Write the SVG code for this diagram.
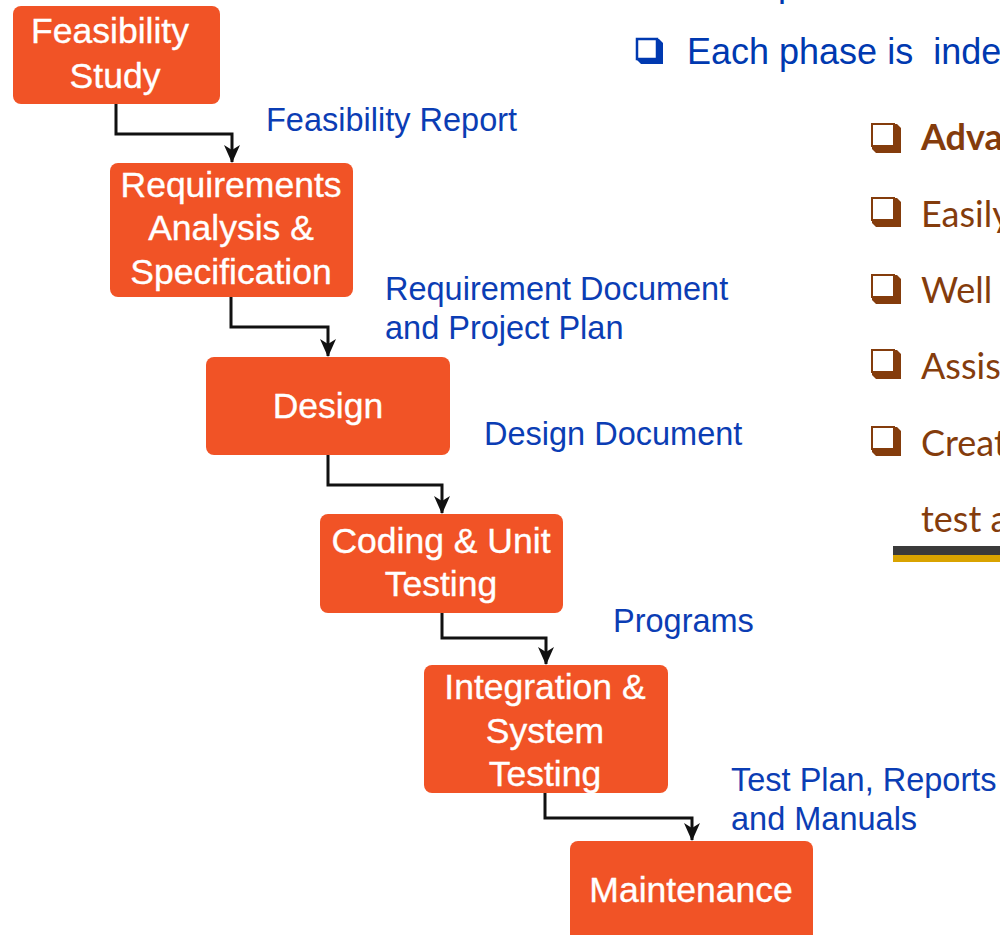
<svg xmlns="http://www.w3.org/2000/svg" width="1000" height="935" viewBox="0 0 1000 935">
  <style>
    .box { fill: #f15326; }
    .lbl { font-family: "Liberation Sans", Arial, sans-serif; font-size: 35.5px; fill: #ffffff; stroke: #ffffff; stroke-width: 0.35; text-anchor: middle; }
    .out { font-family: "Liberation Sans", Arial, sans-serif; font-size: 32.5px; fill: #0b3db4; }
    .edge { fill: none; stroke: #111111; stroke-width: 3; }
    .head { font-family: "Liberation Sans", Arial, sans-serif; font-size: 36px; fill: #0039b0; white-space: pre; }
    .pt { font-family: Lato, "Open Sans", "Liberation Sans", sans-serif; font-size: 36px; fill: #843c0c; }
  </style>
  <defs>
    <marker id="arr" viewBox="0 0 18 18" refX="17" refY="9" markerWidth="18" markerHeight="18" markerUnits="userSpaceOnUse" orient="auto">
      <path d="M0,1 L18,9 L0,17 L5,9 z" fill="#111111"/>
    </marker>
    <!-- shadowed square bullet, 30x30 -->
    <g id="sq">
      <rect x="1" y="1" width="22" height="22" fill="none" stroke="currentColor" stroke-width="2"/>
      <polygon points="23,1 26,1 30,5 30,30 5,30 1,26 1,23 23,23" fill="currentColor"/>
    </g>
    <g id="sq-s">
      <rect x="1" y="1" width="20" height="20" fill="none" stroke="currentColor" stroke-width="2.5"/>
      <polygon points="21,1 23,1 27,5 27,26 5,26 1,22 1,21 21,21" fill="currentColor"/>
    </g>
  </defs>

  <!-- connectors -->
  <g id="connectors">
    <path class="edge" d="M116,104 V134 H232 V162" marker-end="url(#arr)"/>
    <path class="edge" d="M231,297 V327 H328 V356" marker-end="url(#arr)"/>
    <path class="edge" d="M328,455 V485 H442 V513" marker-end="url(#arr)"/>
    <path class="edge" d="M442,613 V638 H546 V664" marker-end="url(#arr)"/>
    <path class="edge" d="M545,793 V818 H692 V840" marker-end="url(#arr)"/>
  </g>

  <!-- phase nodes -->
  <g id="feasibility">
    <rect class="box" x="13" y="6" width="207" height="98" rx="8"/>
    <text class="lbl" x="110" y="43">Feasibility</text>
    <text class="lbl" x="115" y="88">Study</text>
  </g>
  <g id="requirements">
    <rect class="box" x="110" y="163" width="243" height="134" rx="8"/>
    <text class="lbl" x="231" y="197">Requirements</text>
    <text class="lbl" x="231" y="240">Analysis &amp;</text>
    <text class="lbl" x="231" y="284">Specification</text>
  </g>
  <g id="design">
    <rect class="box" x="206" y="357" width="244" height="98" rx="8"/>
    <text class="lbl" x="328" y="418">Design</text>
  </g>
  <g id="coding">
    <rect class="box" x="320" y="514" width="243" height="99" rx="8"/>
    <text class="lbl" x="441" y="553">Coding &amp; Unit</text>
    <text class="lbl" x="441" y="596">Testing</text>
  </g>
  <g id="integration">
    <rect class="box" x="424" y="665" width="244" height="128" rx="8"/>
    <text class="lbl" x="545" y="699">Integration &amp;</text>
    <text class="lbl" x="545" y="743">System</text>
    <text class="lbl" x="545" y="786">Testing</text>
  </g>
  <g id="maintenance">
    <rect class="box" x="570" y="841" width="243" height="110" rx="8"/>
    <text class="lbl" x="691" y="902">Maintenance</text>
  </g>

  <!-- phase outputs -->
  <g id="outputs">
    <text class="out" x="266" y="131">Feasibility Report</text>
    <text class="out" x="385" y="300">Requirement Document</text>
    <text class="out" x="385" y="339">and Project Plan</text>
    <text class="out" x="484" y="445">Design Document</text>
    <text class="out" x="613" y="632">Programs</text>
    <text class="out" x="731" y="791">Test Plan, Reports</text>
    <text class="out" x="731" y="830">and Manuals</text>
  </g>

  <!-- side notes -->
  <g id="notes">
    <text class="head" x="778" y="-4">p</text>
    <use href="#sq-s" x="636" y="38" style="color:#0039b0"/>
    <text class="head" x="687" y="64">Each phase is  inde</text>

    <use href="#sq" x="871" y="123" style="color:#843c0c"/>
    <text class="pt" x="921" y="150" font-weight="bold">Adva</text>
    <use href="#sq" x="871" y="197" style="color:#843c0c"/>
    <text class="pt" x="921" y="227">Easily</text>
    <use href="#sq" x="871" y="274" style="color:#843c0c"/>
    <text class="pt" x="921" y="303">Well</text>
    <use href="#sq" x="871" y="349" style="color:#843c0c"/>
    <text class="pt" x="921" y="379">Assis</text>
    <use href="#sq" x="871" y="426" style="color:#843c0c"/>
    <text class="pt" x="921" y="456">Creat</text>
    <text class="pt" x="921" y="532">test a</text>
    <rect x="893" y="546" width="107" height="9" fill="#3a3a3a"/>
    <rect x="893" y="555" width="107" height="7" fill="#d9a300"/>
  </g>
</svg>
